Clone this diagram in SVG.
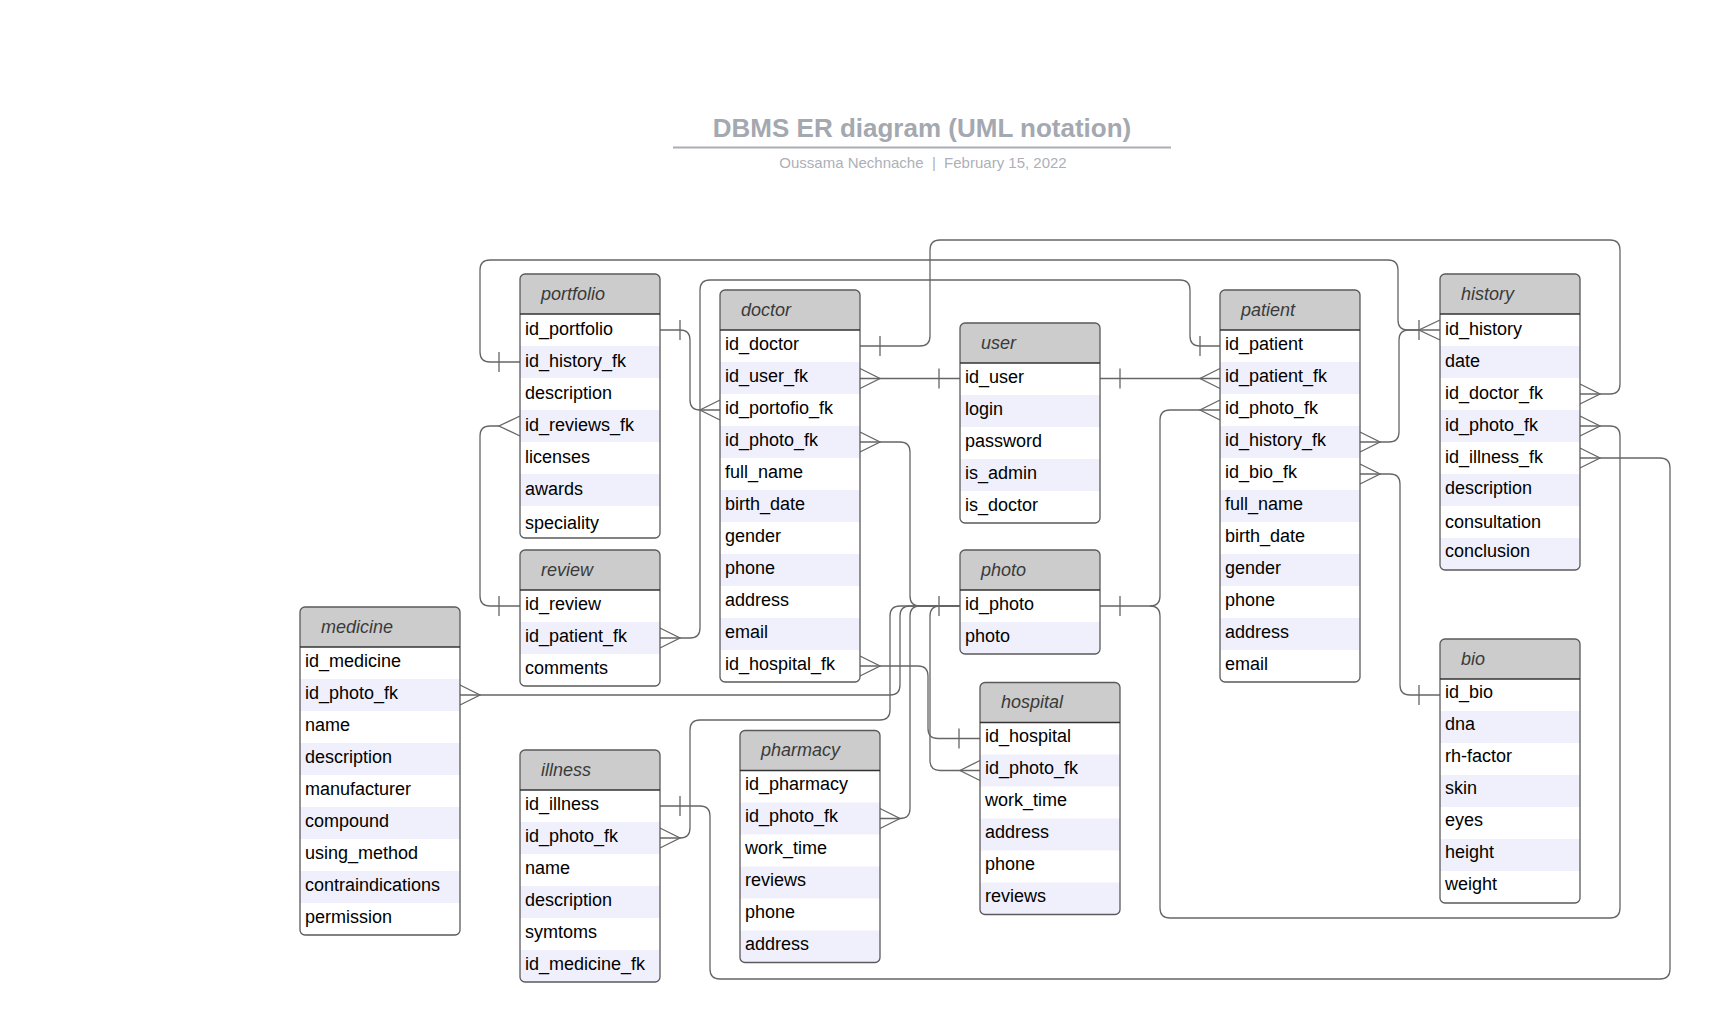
<svg xmlns="http://www.w3.org/2000/svg" width="1710" height="1022" viewBox="0 0 1710 1022">
<style>
text{font-family:"Liberation Sans",Arial,sans-serif}
.bg{fill:#ffffff}
.hd{fill:#cccccc}
.sh{fill:#f0f0fc}
.ol{fill:none;stroke:#5a5a5a;stroke-width:1.3}
.hl{stroke:#333333;stroke-width:1.3}
.ht{font-size:18px;font-style:italic;fill:#3a3a3a}
.t{font-size:18px;fill:#000000}
.c{fill:none;stroke:#666666;stroke-width:1.3}
</style>
<rect width="1710" height="1022" fill="#ffffff"/>
<g id="title">
<text x="922" y="137" text-anchor="middle" font-size="26" font-weight="bold" fill="#a4a8b0">DBMS ER diagram (UML notation)</text>
<line x1="673" y1="147.5" x2="1171" y2="147.5" stroke="#a9adb5" stroke-width="2"/>
<text x="923" y="168" text-anchor="middle" font-size="15" fill="#adb0b8" style="white-space:pre">Oussama Nechnache  |  February 15, 2022</text>
</g>
<g id="connectors">
<path class="c" d="M660,330H680Q690,330 690,340V400Q690,410 700,410H720"/>
<path class="c" d="M520,362H490Q480,362 480,352V270Q480,260 490,260H1388Q1398,260 1398,270V320Q1398,330 1408,330H1440"/>
<path class="c" d="M1360,442H1389Q1399,442 1399,432V340Q1399,330 1409,330H1420"/>
<path class="c" d="M499,426H490Q480,426 480,436V596Q480,606 490,606H520"/>
<path class="c" d="M660,638H690Q700,638 700,628V290Q700,280 710,280H1180Q1190,280 1190,290V336Q1190,346 1200,346H1220"/>
<path class="c" d="M860,346H920Q930,346 930,336V250Q930,240 940,240H1610Q1620,240 1620,250V384Q1620,394 1610,394H1580"/>
<path class="c" d="M860,378.5H960"/>
<path class="c" d="M1100,378.5H1220"/>
<path class="c" d="M1220,410H1170Q1160,410 1160,420V596Q1160,606 1150,606H1100"/>
<path class="c" d="M1580,426H1610Q1620,426 1620,436V908Q1620,918 1610,918H1170Q1160,918 1160,908V616Q1160,606 1150,606"/>
<path class="c" d="M1580,458H1660Q1670,458 1670,468V969Q1670,979 1660,979H720Q710,979 710,969V816Q710,806 700,806H660"/>
<path class="c" d="M1360,474H1390Q1400,474 1400,484V685Q1400,695 1410,695H1440"/>
<path class="c" d="M860,442H900Q910,442 910,452V596Q910,606 920,606H960"/>
<path class="c" d="M460,695H890Q900,695 900,685V616Q900,606 910,606H960"/>
<path class="c" d="M660,838H680Q690,838 690,828V730Q690,720 700,720H880Q890,720 890,710V616Q890,606 900,606H960"/>
<path class="c" d="M880,818.5H900Q910,818.5 910,808.5V616Q910,606 920,606"/>
<path class="c" d="M980,770.5H940Q930,770.5 930,760.5V616Q930,606 940,606H960"/>
<path class="c" d="M860,666H918Q928,666 928,676V728.5Q928,738.5 938,738.5H980"/>
<path class="c" d="M680,320V340M499,352V372M1419,320V340M499,596V616M1200,336V356M880,336V356M939,368.5V388.5M1120,368.5V388.5M939,596V616M1120,596V616M680,796V816M1419,685V705M959,728.5V748.5"/>
<path class="c" d="M720,400L700,410L720,420M1440,320L1419,330L1440,340M1360,432L1380,442L1360,452M520,416L499,426L520,436M660,628L680,638L660,648M1580,384L1600,394L1580,404M860,368.5L880,378.5L860,388.5M1220,368.5L1200,378.5L1220,388.5M1220,400L1200,410L1220,420M1580,416L1600,426L1580,436M1580,448L1600,458L1580,468M1360,464L1380,474L1360,484M860,432L880,442L860,452M460,685L480,695L460,705M660,828L680,838L660,848M880,808.5L900,818.5L880,828.5M980,760.5L960,770.5L980,780.5M860,656L880,666L860,676"/>
</g>
<g id="portfolio">
<rect class="bg" x="520" y="274" width="140" height="264" rx="5"/>
<path class="hd" d="M520,314V279Q520,274 525,274H655Q660,274 660,279V314Z"/>
<rect class="sh" x="520" y="346" width="140" height="32"/><rect class="sh" x="520" y="410" width="140" height="32"/><rect class="sh" x="520" y="474" width="140" height="32"/>
<rect class="ol" x="520" y="274" width="140" height="264" rx="5"/>
<line class="hl" x1="520" y1="314" x2="660" y2="314"/>
<text class="ht" x="541" y="299.5">portfolio</text>
<text class="t" x="525" y="334.5">id_portfolio</text>
<text class="t" x="525" y="366.5">id_history_fk</text>
<text class="t" x="525" y="398.5">description</text>
<text class="t" x="525" y="430.5">id_reviews_fk</text>
<text class="t" x="525" y="462.5">licenses</text>
<text class="t" x="525" y="494.5">awards</text>
<text class="t" x="525" y="528.5">speciality</text>
</g>
<g id="doctor">
<rect class="bg" x="720" y="290" width="140" height="392" rx="5"/>
<path class="hd" d="M720,330V295Q720,290 725,290H855Q860,290 860,295V330Z"/>
<rect class="sh" x="720" y="362" width="140" height="32"/><rect class="sh" x="720" y="426" width="140" height="32"/><rect class="sh" x="720" y="490" width="140" height="32"/><rect class="sh" x="720" y="554" width="140" height="32"/><rect class="sh" x="720" y="618" width="140" height="32"/>
<rect class="ol" x="720" y="290" width="140" height="392" rx="5"/>
<line class="hl" x1="720" y1="330" x2="860" y2="330"/>
<text class="ht" x="741" y="315.5">doctor</text>
<text class="t" x="725" y="350">id_doctor</text>
<text class="t" x="725" y="382">id_user_fk</text>
<text class="t" x="725" y="414">id_portofio_fk</text>
<text class="t" x="725" y="446">id_photo_fk</text>
<text class="t" x="725" y="478">full_name</text>
<text class="t" x="725" y="510">birth_date</text>
<text class="t" x="725" y="542">gender</text>
<text class="t" x="725" y="574">phone</text>
<text class="t" x="725" y="606">address</text>
<text class="t" x="725" y="638">email</text>
<text class="t" x="725" y="670">id_hospital_fk</text>
</g>
<g id="user">
<rect class="bg" x="960" y="323" width="140" height="200" rx="5"/>
<path class="hd" d="M960,363V328Q960,323 965,323H1095Q1100,323 1100,328V363Z"/>
<rect class="sh" x="960" y="395" width="140" height="32"/><rect class="sh" x="960" y="459" width="140" height="32"/>
<rect class="ol" x="960" y="323" width="140" height="200" rx="5"/>
<line class="hl" x1="960" y1="363" x2="1100" y2="363"/>
<text class="ht" x="981" y="348.5">user</text>
<text class="t" x="965" y="383">id_user</text>
<text class="t" x="965" y="415">login</text>
<text class="t" x="965" y="447">password</text>
<text class="t" x="965" y="479">is_admin</text>
<text class="t" x="965" y="511">is_doctor</text>
</g>
<g id="patient">
<rect class="bg" x="1220" y="290" width="140" height="392" rx="5"/>
<path class="hd" d="M1220,330V295Q1220,290 1225,290H1355Q1360,290 1360,295V330Z"/>
<rect class="sh" x="1220" y="362" width="140" height="32"/><rect class="sh" x="1220" y="426" width="140" height="32"/><rect class="sh" x="1220" y="490" width="140" height="32"/><rect class="sh" x="1220" y="554" width="140" height="32"/><rect class="sh" x="1220" y="618" width="140" height="32"/>
<rect class="ol" x="1220" y="290" width="140" height="392" rx="5"/>
<line class="hl" x1="1220" y1="330" x2="1360" y2="330"/>
<text class="ht" x="1241" y="315.5">patient</text>
<text class="t" x="1225" y="350">id_patient</text>
<text class="t" x="1225" y="382">id_patient_fk</text>
<text class="t" x="1225" y="414">id_photo_fk</text>
<text class="t" x="1225" y="446">id_history_fk</text>
<text class="t" x="1225" y="478">id_bio_fk</text>
<text class="t" x="1225" y="510">full_name</text>
<text class="t" x="1225" y="542">birth_date</text>
<text class="t" x="1225" y="574">gender</text>
<text class="t" x="1225" y="606">phone</text>
<text class="t" x="1225" y="638">address</text>
<text class="t" x="1225" y="670">email</text>
</g>
<g id="history">
<rect class="bg" x="1440" y="274" width="140" height="296" rx="5"/>
<path class="hd" d="M1440,314V279Q1440,274 1445,274H1575Q1580,274 1580,279V314Z"/>
<rect class="sh" x="1440" y="346" width="140" height="32"/><rect class="sh" x="1440" y="410" width="140" height="32"/><rect class="sh" x="1440" y="474" width="140" height="32"/>
<path class="sh" d="M1440,538H1580V565Q1580,570 1575,570H1445Q1440,570 1440,565Z"/>
<rect class="ol" x="1440" y="274" width="140" height="296" rx="5"/>
<line class="hl" x1="1440" y1="314" x2="1580" y2="314"/>
<text class="ht" x="1461" y="299.5">history</text>
<text class="t" x="1445" y="334.5">id_history</text>
<text class="t" x="1445" y="366.5">date</text>
<text class="t" x="1445" y="398.5">id_doctor_fk</text>
<text class="t" x="1445" y="430.5">id_photo_fk</text>
<text class="t" x="1445" y="462.5">id_illness_fk</text>
<text class="t" x="1445" y="493.5">description</text>
<text class="t" x="1445" y="527.5">consultation</text>
<text class="t" x="1445" y="556.5">conclusion</text>
</g>
<g id="review">
<rect class="bg" x="520" y="550" width="140" height="136" rx="5"/>
<path class="hd" d="M520,590V555Q520,550 525,550H655Q660,550 660,555V590Z"/>
<rect class="sh" x="520" y="622" width="140" height="32"/>
<rect class="ol" x="520" y="550" width="140" height="136" rx="5"/>
<line class="hl" x1="520" y1="590" x2="660" y2="590"/>
<text class="ht" x="541" y="575.5">review</text>
<text class="t" x="525" y="610">id_review</text>
<text class="t" x="525" y="642">id_patient_fk</text>
<text class="t" x="525" y="674">comments</text>
</g>
<g id="photo">
<rect class="bg" x="960" y="550" width="140" height="104" rx="5"/>
<path class="hd" d="M960,590V555Q960,550 965,550H1095Q1100,550 1100,555V590Z"/>
<path class="sh" d="M960,622H1100V649Q1100,654 1095,654H965Q960,654 960,649Z"/>
<rect class="ol" x="960" y="550" width="140" height="104" rx="5"/>
<line class="hl" x1="960" y1="590" x2="1100" y2="590"/>
<text class="ht" x="981" y="575.5">photo</text>
<text class="t" x="965" y="610">id_photo</text>
<text class="t" x="965" y="642">photo</text>
</g>
<g id="medicine">
<rect class="bg" x="300" y="607" width="160" height="328" rx="5"/>
<path class="hd" d="M300,647V612Q300,607 305,607H455Q460,607 460,612V647Z"/>
<rect class="sh" x="300" y="679" width="160" height="32"/><rect class="sh" x="300" y="743" width="160" height="32"/><rect class="sh" x="300" y="807" width="160" height="32"/><rect class="sh" x="300" y="871" width="160" height="32"/>
<rect class="ol" x="300" y="607" width="160" height="328" rx="5"/>
<line class="hl" x1="300" y1="647" x2="460" y2="647"/>
<text class="ht" x="321" y="632.5">medicine</text>
<text class="t" x="305" y="666.5">id_medicine</text>
<text class="t" x="305" y="698.5">id_photo_fk</text>
<text class="t" x="305" y="730.5">name</text>
<text class="t" x="305" y="762.5">description</text>
<text class="t" x="305" y="794.5">manufacturer</text>
<text class="t" x="305" y="826.5">compound</text>
<text class="t" x="305" y="858.5">using_method</text>
<text class="t" x="305" y="890.5">contraindications</text>
<text class="t" x="305" y="922.5">permission</text>
</g>
<g id="hospital">
<rect class="bg" x="980" y="682.5" width="140" height="232" rx="5"/>
<path class="hd" d="M980,722.5V687.5Q980,682.5 985,682.5H1115Q1120,682.5 1120,687.5V722.5Z"/>
<rect class="sh" x="980" y="754.5" width="140" height="32"/><rect class="sh" x="980" y="818.5" width="140" height="32"/>
<path class="sh" d="M980,882.5H1120V909.5Q1120,914.5 1115,914.5H985Q980,914.5 980,909.5Z"/>
<rect class="ol" x="980" y="682.5" width="140" height="232" rx="5"/>
<line class="hl" x1="980" y1="722.5" x2="1120" y2="722.5"/>
<text class="ht" x="1001" y="708">hospital</text>
<text class="t" x="985" y="742">id_hospital</text>
<text class="t" x="985" y="774">id_photo_fk</text>
<text class="t" x="985" y="806">work_time</text>
<text class="t" x="985" y="838">address</text>
<text class="t" x="985" y="870">phone</text>
<text class="t" x="985" y="902">reviews</text>
</g>
<g id="illness">
<rect class="bg" x="520" y="750" width="140" height="232" rx="5"/>
<path class="hd" d="M520,790V755Q520,750 525,750H655Q660,750 660,755V790Z"/>
<rect class="sh" x="520" y="822" width="140" height="32"/><rect class="sh" x="520" y="886" width="140" height="32"/>
<path class="sh" d="M520,950H660V977Q660,982 655,982H525Q520,982 520,977Z"/>
<rect class="ol" x="520" y="750" width="140" height="232" rx="5"/>
<line class="hl" x1="520" y1="790" x2="660" y2="790"/>
<text class="ht" x="541" y="775.5">illness</text>
<text class="t" x="525" y="809.5">id_illness</text>
<text class="t" x="525" y="841.5">id_photo_fk</text>
<text class="t" x="525" y="873.5">name</text>
<text class="t" x="525" y="905.5">description</text>
<text class="t" x="525" y="937.5">symtoms</text>
<text class="t" x="525" y="969.5">id_medicine_fk</text>
</g>
<g id="pharmacy">
<rect class="bg" x="740" y="730.5" width="140" height="232" rx="5"/>
<path class="hd" d="M740,770.5V735.5Q740,730.5 745,730.5H875Q880,730.5 880,735.5V770.5Z"/>
<rect class="sh" x="740" y="802.5" width="140" height="32"/><rect class="sh" x="740" y="866.5" width="140" height="32"/>
<path class="sh" d="M740,930.5H880V957.5Q880,962.5 875,962.5H745Q740,962.5 740,957.5Z"/>
<rect class="ol" x="740" y="730.5" width="140" height="232" rx="5"/>
<line class="hl" x1="740" y1="770.5" x2="880" y2="770.5"/>
<text class="ht" x="761" y="756">pharmacy</text>
<text class="t" x="745" y="790">id_pharmacy</text>
<text class="t" x="745" y="822">id_photo_fk</text>
<text class="t" x="745" y="854">work_time</text>
<text class="t" x="745" y="886">reviews</text>
<text class="t" x="745" y="918">phone</text>
<text class="t" x="745" y="950">address</text>
</g>
<g id="bio">
<rect class="bg" x="1440" y="639" width="140" height="264" rx="5"/>
<path class="hd" d="M1440,679V644Q1440,639 1445,639H1575Q1580,639 1580,644V679Z"/>
<rect class="sh" x="1440" y="711" width="140" height="32"/><rect class="sh" x="1440" y="775" width="140" height="32"/><rect class="sh" x="1440" y="839" width="140" height="32"/>
<rect class="ol" x="1440" y="639" width="140" height="264" rx="5"/>
<line class="hl" x1="1440" y1="679" x2="1580" y2="679"/>
<text class="ht" x="1461" y="664.5">bio</text>
<text class="t" x="1445" y="697.5">id_bio</text>
<text class="t" x="1445" y="729.5">dna</text>
<text class="t" x="1445" y="761.5">rh-factor</text>
<text class="t" x="1445" y="793.5">skin</text>
<text class="t" x="1445" y="825.5">eyes</text>
<text class="t" x="1445" y="857.5">height</text>
<text class="t" x="1445" y="889.5">weight</text>
</g>
</svg>
